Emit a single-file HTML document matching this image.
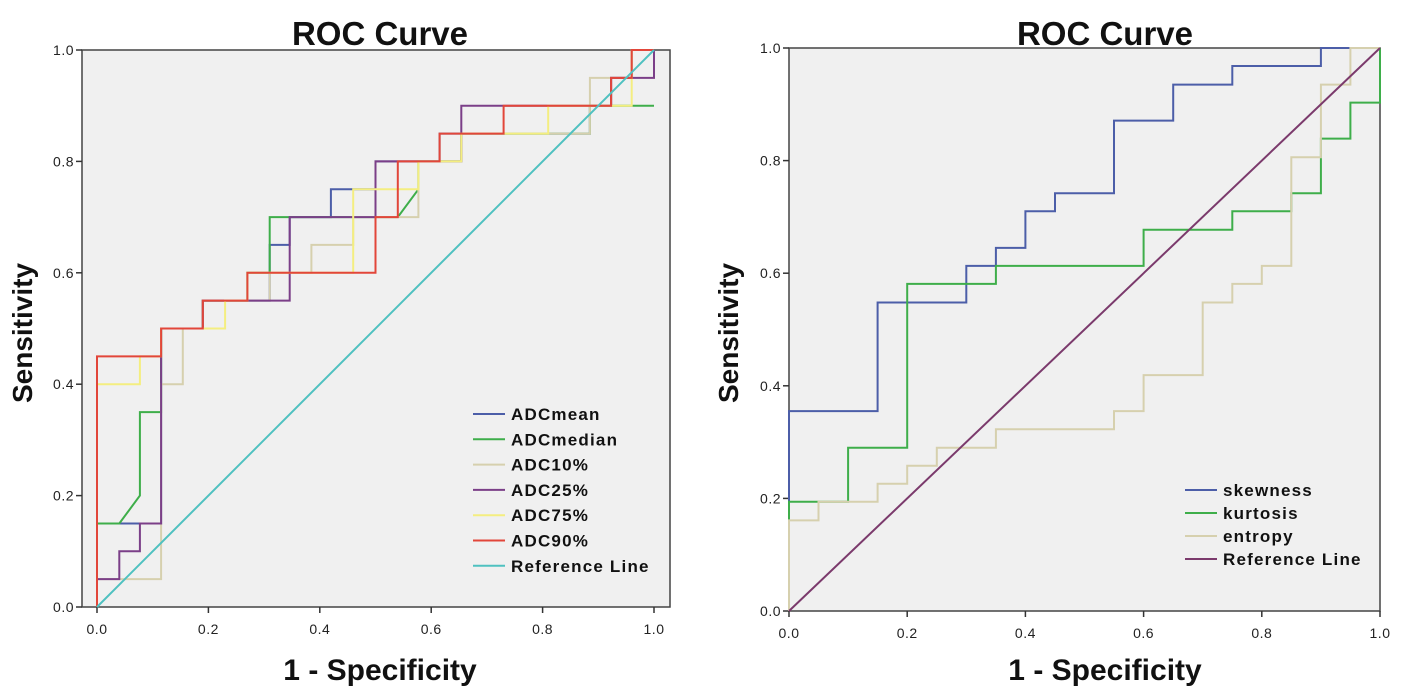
<!DOCTYPE html>
<html><head><meta charset="utf-8"><style>
body{margin:0;background:#fff;width:1423px;height:688px;overflow:hidden}
svg text{font-family:"Liberation Sans",Arial,sans-serif}
</style></head><body>
<svg id="s" width="1423" height="688" xmlns="http://www.w3.org/2000/svg"></svg>
<script>
const NS='http://www.w3.org/2000/svg';
const s=document.getElementById('s');
const ticks=[0,0.2,0.4,0.6,0.8,1.0];
const tickLabels=['0.0','0.2','0.4','0.6','0.8','1.0'];
// Left chart series (fpr, tpr vertices)
const adcMeanX=[0,0,0.115,0.115,0.19,0.19,0.31,0.31,0.346,0.346,0.42,0.42,0.5,0.5,0.615,0.615,0.654,0.654,0.885,0.885,0.923,0.923,0.96,0.96,1];
const adcMeanY=[0,0.15,0.15,0.5,0.5,0.55,0.55,0.65,0.65,0.7,0.7,0.75,0.75,0.8,0.8,0.85,0.85,0.85,0.85,0.9,0.9,0.95,0.95,1,1];
const adcMedianX=[0,0,0.04,0.077,0.077,0.115,0.115,0.19,0.19,0.27,0.27,0.31,0.31,0.54,0.577,0.577,0.654,0.654,0.885,0.885,1];
const adcMedianY=[0,0.15,0.15,0.2,0.35,0.35,0.5,0.5,0.55,0.55,0.6,0.6,0.7,0.7,0.75,0.8,0.8,0.85,0.85,0.9,0.9];
const adc10X=[0,0,0.115,0.115,0.154,0.154,0.19,0.19,0.31,0.31,0.385,0.385,0.46,0.46,0.577,0.577,0.654,0.654,0.885,0.885,0.96,0.96,1];
const adc10Y=[0,0.05,0.05,0.4,0.4,0.5,0.5,0.55,0.55,0.6,0.6,0.65,0.65,0.7,0.7,0.8,0.8,0.85,0.85,0.95,0.95,1,1];
const adc25X=[0,0,0.04,0.04,0.077,0.077,0.115,0.115,0.19,0.19,0.27,0.27,0.346,0.346,0.5,0.5,0.615,0.615,0.654,0.654,0.923,0.923,1,1];
const adc25Y=[0,0.05,0.05,0.1,0.1,0.15,0.15,0.5,0.5,0.55,0.55,0.55,0.55,0.7,0.7,0.8,0.8,0.8,0.8,0.9,0.9,0.95,0.95,1];
const adc75X=[0,0,0.077,0.077,0.115,0.115,0.23,0.23,0.27,0.27,0.46,0.46,0.577,0.577,0.654,0.654,0.81,0.81,0.96,0.96,1];
const adc75Y=[0,0.4,0.4,0.45,0.45,0.5,0.5,0.55,0.55,0.6,0.6,0.75,0.75,0.8,0.8,0.85,0.85,0.9,0.9,1,1];
const adc90X=[0,0,0.115,0.115,0.19,0.19,0.27,0.27,0.5,0.5,0.54,0.54,0.615,0.615,0.73,0.73,0.923,0.923,0.96,0.96,1];
const adc90Y=[0,0.45,0.45,0.5,0.5,0.55,0.55,0.6,0.6,0.7,0.7,0.8,0.8,0.85,0.85,0.9,0.9,0.95,0.95,1,1];
// Right chart series
const skewX=[0,0,0.15,0.15,0.3,0.3,0.35,0.35,0.4,0.4,0.45,0.45,0.55,0.55,0.65,0.65,0.75,0.75,0.9,0.9,1];
const skewY=[0,0.355,0.355,0.548,0.548,0.613,0.613,0.645,0.645,0.71,0.71,0.742,0.742,0.871,0.871,0.935,0.935,0.968,0.968,1,1];
const kurtX=[0,0,0.1,0.1,0.2,0.2,0.35,0.35,0.6,0.6,0.75,0.75,0.85,0.85,0.9,0.9,0.95,0.95,1,1];
const kurtY=[0,0.194,0.194,0.29,0.29,0.581,0.581,0.613,0.613,0.677,0.677,0.71,0.71,0.742,0.742,0.839,0.839,0.903,0.903,1];
const entX=[0,0,0.05,0.05,0.15,0.15,0.2,0.2,0.25,0.25,0.35,0.35,0.55,0.55,0.6,0.6,0.7,0.7,0.75,0.75,0.8,0.8,0.85,0.85,0.9,0.9,0.95,0.95,1];
const entY=[0,0.161,0.161,0.194,0.194,0.226,0.226,0.258,0.258,0.29,0.29,0.323,0.323,0.355,0.355,0.419,0.419,0.548,0.548,0.581,0.581,0.613,0.613,0.806,0.806,0.935,0.935,1,1];
const refX=[0,1], refY=[0,1];

function el(tag,attrs,parent,text){const e=document.createElementNS(NS,tag);for(const k in attrs)e.setAttribute(k,attrs[k]);if(text!==undefined)e.textContent=text;(parent||s).appendChild(e);return e;}

function chart(cfg){
  const g=el('g',{});
  
  
  const sx=v=>cfg.x0+v*(cfg.x1-cfg.x0), sy=v=>cfg.y0-v*(cfg.y0-cfg.y1);
  const bg=el('rect',{x:cfg.bx0,y:cfg.y1,width:cfg.bx1-cfg.bx0,height:cfg.y0-cfg.y1,fill:'#f0f0f0',stroke:'#444','stroke-width':1.5},g);
  
  
  ticks.forEach((v,i)=>{
    el('line',{x1:sx(v),x2:sx(v),y1:cfg.y0,y2:cfg.y0+6,stroke:'#333','stroke-width':1.5},g);
    const xl=el('text',{x:sx(v),y:cfg.y0+27,'font-size':14,'letter-spacing':0.5,'text-anchor':'middle',fill:'#222'},g,tickLabels[i]);
    
    
    el('line',{x1:cfg.bx0-6,x2:cfg.bx0,y1:sy(v),y2:sy(v),stroke:'#333','stroke-width':1.5},g);
    const yl=el('text',{x:cfg.bx0-8,y:sy(v)+5,'font-size':14,'letter-spacing':0.5,'text-anchor':'end',fill:'#222'},g,tickLabels[i]);
    
    
  });
  const t=el('text',{x:cfg.tx,y:45,'font-size':33,'font-weight':'bold','text-anchor':'middle',fill:'#111'},g,'ROC Curve');
  
  
  const xt=el('text',{x:cfg.tx,y:680,'font-size':30,'font-weight':'bold','text-anchor':'middle',fill:'#111'},g,'1 - Specificity');
  
  
  const yt=el('text',{x:0,y:0,'font-size':28,'font-weight':'bold','text-anchor':'middle',fill:'#111',transform:`translate(${cfg.ytx},333) rotate(-90)`},g,'Sensitivity');
  
  
  cfg.series.forEach((sr,i)=>{
    const pts=sr.x.map((v,j)=>sx(v).toFixed(1)+','+sy(sr.y[j]).toFixed(1)).join(' ');
    const pl=el('polyline',{points:pts,fill:'none',stroke:sr.c,'stroke-width':2},g);
    
    
    const ly=cfg.ly+i*cfg.ld;
    const le=el('g',{},g);
    
    
    el('line',{x1:cfg.lx,x2:cfg.lx+32,y1:ly,y2:ly,stroke:sr.c,'stroke-width':2},le);
    el('text',{x:cfg.lx+38,y:ly+6,'font-size':17,'font-weight':'bold','letter-spacing':1.2,fill:'#111'},le,sr.label);
  });
}
chart({name:'left-roc-chart',x0:97,x1:654,y0:607,y1:50,bx0:82,bx1:670,tx:380,ytx:32,lx:473,ly:414,ld:25.3,
 series:[
  {id:'adcmean',x:adcMeanX,y:adcMeanY,c:'#4c5ea8',label:'ADCmean'},
  {id:'adcmedian',x:adcMedianX,y:adcMedianY,c:'#3eae4a',label:'ADCmedian'},
  {id:'adc10',x:adc10X,y:adc10Y,c:'#d6d0ae',label:'ADC10%'},
  {id:'adc25',x:adc25X,y:adc25Y,c:'#7b3f88',label:'ADC25%'},
  {id:'adc75',x:adc75X,y:adc75Y,c:'#f4ee80',label:'ADC75%'},
  {id:'adc90',x:adc90X,y:adc90Y,c:'#e2463a',label:'ADC90%'},
  {id:'reference',x:refX,y:refY,c:'#4fc1c0',label:'Reference Line'}]});
chart({name:'right-roc-chart',x0:789,x1:1380,y0:611,y1:48,bx0:789,bx1:1380,tx:1105,ytx:738,lx:1185,ly:490,ld:23,
 series:[
  {id:'skewness',x:skewX,y:skewY,c:'#4c5ea8',label:'skewness'},
  {id:'kurtosis',x:kurtX,y:kurtY,c:'#3eae4a',label:'kurtosis'},
  {id:'entropy',x:entX,y:entY,c:'#d6d0ae',label:'entropy'},
  {id:'reference',x:refX,y:refY,c:'#7b3a6c',label:'Reference Line'}]});
</script>
</body></html>
